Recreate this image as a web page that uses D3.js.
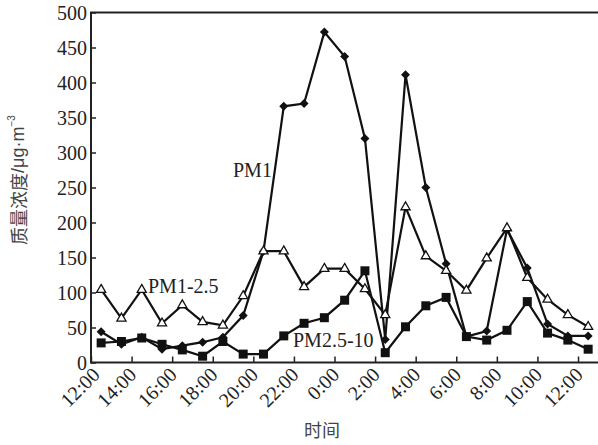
<!DOCTYPE html>
<html>
<head>
<meta charset="utf-8">
<script src="https://cdn.jsdelivr.net/npm/d3@7"></script>
<style>
  body { margin: 0; background: #fff; }
  svg { display: block; }
</style>
</head>
<body>
<div id="chart"></div>
<script>
// hours after 12:00 (points sit at the half hour)
var hours = [0.5, 1.5, 2.5, 3.5, 4.5, 5.5, 6.5, 7.5, 8.5, 9.5, 10.5, 11.5, 12.5,
             13.5, 14.5, 15.5, 16.5, 17.5, 18.5, 19.5, 20.5, 21.5, 22.5, 23.5, 24.5];
var pm1 = [44, 26, 36, 19, 24, 29, 36, 67, 159, 366, 370, 472, 437, 320, 33,
           411, 250, 141, 37, 45, 190, 135, 55, 38, 38];
var pm1to25 = [104, 63, 104, 56, 82, 58, 53, 95, 159, 159, 108, 134, 134, 105, 68,
               222, 152, 131, 103, 149, 192, 121, 90, 68, 51];
var pm25to10 = [28, 30, 35, 26, 18, 9, 30, 12, 12, 38, 56, 64, 89, 131, 14,
                51, 81, 93, 37, 32, 46, 87, 42, 32, 19];
var tickHours = [0, 2, 4, 6, 8, 10, 12, 14, 16, 18, 20, 22, 24];
var tickLabels = ["12:00", "14:00", "16:00", "18:00", "20:00", "22:00", "0:00",
                  "2:00", "4:00", "6:00", "8:00", "10:00", "12:00"];
var yTicks = [0, 50, 100, 150, 200, 250, 300, 350, 400, 450, 500];

var width = 598, height = 445;
var plotLeft = 91, plotTop = 12.5, plotBottom = 362.5, plotRight = 598;

var svg = d3.select("#chart").append("svg")
    .attr("width", width)
    .attr("height", height);

var x = d3.scaleLinear().domain([0, 25]).range([plotLeft, 598.3]);
var y = d3.scaleLinear().domain([0, 500]).range([plotBottom, plotTop]);

var serif = "'Liberation Serif', 'DejaVu Serif', serif";
var cjk = "'Noto Sans CJK SC', 'Noto Sans', sans-serif";
var sans = "'Liberation Sans', Arial, sans-serif";

// axes (ticks point inward)
var xAxis = d3.axisBottom(x).tickValues(tickHours).tickSize(-6).tickFormat("");
var yAxis = d3.axisLeft(y).tickValues(yTicks).tickSize(-5).tickFormat("");

svg.append("g").attr("transform", "translate(0," + plotBottom + ")").call(xAxis)
    .call(g => g.select(".domain").remove());
svg.append("g").attr("transform", "translate(" + plotLeft + ",0)").call(yAxis)
    .call(g => g.select(".domain").remove());
svg.selectAll(".tick line").attr("stroke", "#222").attr("stroke-width", 1.5);

// frame: left, bottom, top
svg.append("path")
    .attr("d", "M" + plotRight + "," + plotTop + "H" + plotLeft + "V" + plotBottom + "H" + plotRight)
    .attr("fill", "none")
    .attr("stroke", "#222")
    .attr("stroke-width", 2);

// y tick labels
svg.append("g").selectAll("text")
    .data(yTicks)
    .join("text")
    .attr("x", 87)
    .attr("y", d => y(d))
    .attr("dy", "0.35em")
    .attr("text-anchor", "end")
    .attr("font-family", serif)
    .attr("font-size", 20)
    .attr("fill", "#222")
    .text(d => d);

// x tick labels, rotated
svg.append("g").selectAll("text")
    .data(tickHours)
    .join("text")
    .attr("transform", (d, i) => "translate(" + (x(d) + (i === 0 ? 10 : 6)) + ",376) rotate(-45)")
    .attr("text-anchor", "end")
    .attr("font-family", serif)
    .attr("font-size", 20)
    .attr("fill", "#222")
    .text((d, i) => tickLabels[i]);

// axis titles
var yTitle = svg.append("text")
    .attr("transform", "translate(18,180) rotate(-90)")
    .attr("text-anchor", "middle")
    .attr("dominant-baseline", "central")
    .attr("font-family", cjk)
    .attr("font-size", 18)
    .attr("fill", "#444");
yTitle.append("tspan").text("质量浓度");
yTitle.append("tspan").attr("font-family", sans).text("/μg·m");
yTitle.append("tspan").attr("dy", -7).attr("font-size", 10)
    .attr("font-family", sans).text("−3");

svg.append("text")
    .attr("x", 322)
    .attr("y", 437)
    .attr("text-anchor", "middle")
    .attr("font-family", cjk)
    .attr("font-size", 18)
    .attr("fill", "#444")
    .text("时间");

// series
var line = d3.line().x(d => x(d[0])).y(d => y(d[1]));

function drawSeries(values) {
    var pts = hours.map((h, i) => [h, values[i]]);
    svg.append("path")
        .datum(pts)
        .attr("d", line)
        .attr("fill", "none")
        .attr("stroke", "#111")
        .attr("stroke-width", 2.2);
    return pts;
}

var p1 = drawSeries(pm1);
var p2 = drawSeries(pm1to25);
var p3 = drawSeries(pm25to10);

// squares
svg.append("g").selectAll("rect")
    .data(p3)
    .join("rect")
    .attr("x", d => x(d[0]) - 4.5)
    .attr("y", d => y(d[1]) - 4.5)
    .attr("width", 9)
    .attr("height", 9)
    .attr("fill", "#111");

// diamonds
svg.append("g").selectAll("path")
    .data(p1)
    .join("path")
    .attr("d", d => {
        var cx = x(d[0]), cy = y(d[1]);
        return "M" + cx + "," + (cy - 4.5) + "L" + (cx + 4.5) + "," + cy +
            "L" + cx + "," + (cy + 4.5) + "L" + (cx - 4.5) + "," + cy + "Z";
    })
    .attr("fill", "#111");

// open triangles
var tri = d3.symbol().type(d3.symbolTriangle).size(36);
svg.append("g").selectAll("path")
    .data(p2)
    .join("path")
    .attr("transform", d => "translate(" + x(d[0]) + "," + y(d[1]) + ")")
    .attr("d", tri)
    .attr("fill", "#fff")
    .attr("stroke", "#111")
    .attr("stroke-width", 1.3);

// series labels
var labels = [
    {text: "PM1", x: 233, y: 177},
    {text: "PM1-2.5", x: 148, y: 293},
    {text: "PM2.5-10", x: 293, y: 347}
];
svg.append("g").selectAll("text")
    .data(labels)
    .join("text")
    .attr("x", d => d.x)
    .attr("y", d => d.y)
    .attr("font-family", serif)
    .attr("font-size", 20)
    .attr("fill", "#222")
    .text(d => d.text);
</script>
</body>
</html>
